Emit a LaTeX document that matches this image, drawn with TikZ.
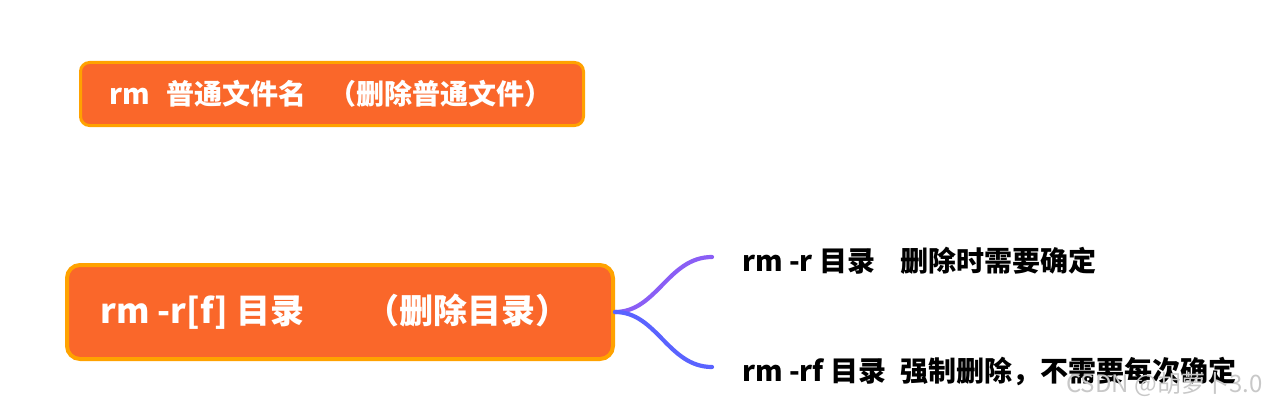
\documentclass[tikz,border=0pt]{standalone}
\usepackage{fontspec}
\setmainfont{Noto Sans CJK SC}
\definecolor{boxfill}{HTML}{FA672A}
\definecolor{boxline}{HTML}{FFA200}
\definecolor{topline}{HTML}{8A5EF5}
\definecolor{botline}{HTML}{5A63FF}
\definecolor{wm}{HTML}{C8C8C8}
\tikzset{
  topicbox/.style={draw=boxline, fill=boxfill, rounded corners=9pt, text=white, font=\bfseries, inner sep=0pt, align=center},
  leaftext/.style={anchor=west, inner sep=0pt, text=black, font=\fontsize{28}{32}\selectfont\bfseries},
  branch/.style={line width=4.2pt, line cap=round},
}
\begin{document}
\begin{tikzpicture}[x=1pt,y=-1pt]
\useasboundingbox (0,0) rectangle (1274,404);
\node[topicbox, line width=3pt, minimum width=503pt, minimum height=63pt, font=\fontsize{28}{32}\selectfont\bfseries] (b1) at (332,94)
  {\hspace*{-2pt}rm\hspace{0.6em}普通文件名\hspace{0.8em}（删除普通文件）};
\node[topicbox, line width=4pt, rounded corners=13pt, minimum width=546pt, minimum height=94pt, font=\fontsize{34}{40}\selectfont\bfseries] (b2) at (340,312)
  {\hspace*{-10pt}rm -r[f] 目录\hspace{1.8em}（删除目录）};
\node[leaftext] (t1) at (742,261) {rm -r 目录\hspace{0.9em}删除时需要确定};
\node[leaftext] (t2) at (742,371) {rm -rf 目录\hspace{0.5em}强制删除，不需要每次确定};
\coordinate (e1) at (712,257);
\coordinate (e2) at (712,367);
\draw[branch, draw=topline] (b2.east) .. controls +(42,0) and (668,257) .. (e1);
\draw[branch, draw=botline] (b2.east) .. controls +(42,0) and (668,367) .. (e2);
\node[anchor=west, inner sep=0pt, text=wm, font=\fontsize{24}{28}\selectfont] (wmk) at (1066,384) {CSDN @胡萝卜3.0};
\end{tikzpicture}
\end{document}
